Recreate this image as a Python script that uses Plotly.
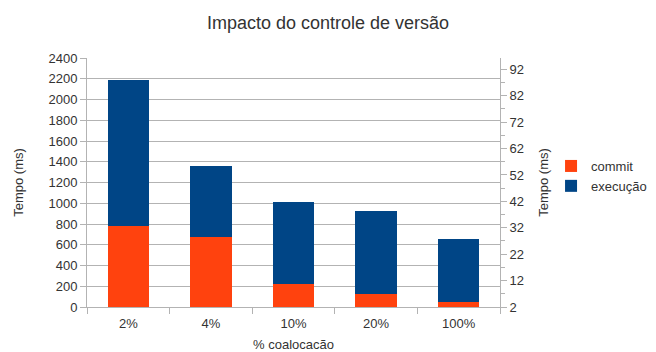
import plotly.graph_objects as go

categories = ["2%", "4%", "10%", "20%", "100%"]
commit = [780, 675, 225, 128, 45]
execucao = [1410, 685, 790, 794, 613]
left_ticks = list(range(0, 2401, 200))
right_ticks = list(range(2, 93, 10))

FONT = "Liberation Sans, Arial, sans-serif"
GRID = "#b3b3b3"
TXT = "#333333"

fig = go.Figure()
fig.add_trace(go.Bar(x=categories, y=commit, name="commit",
                     marker=dict(color="#ff420e", line=dict(width=0))))
fig.add_trace(go.Bar(x=categories, y=execucao, name="execução",
                     marker=dict(color="#004586", line=dict(width=0))))
fig.add_trace(go.Scatter(x=[categories[0]], y=[None], yaxis="y2",
                         showlegend=False, hoverinfo="skip", mode="markers"))

fig.update_layout(
    width=656, height=352,
    barmode="stack", bargap=0.5,
    paper_bgcolor="white", plot_bgcolor="white",
    font=dict(family=FONT, size=13, color=TXT),
    margin=dict(l=87, r=156, t=58, b=45, autoexpand=False),
    title=dict(text="Impacto do controle de versão", x=0.5, xref="container",
               y=0.935, yref="container", xanchor="center", yanchor="middle",
               font=dict(size=18, color=TXT)),
    xaxis=dict(title=dict(text="% coalocacão", standoff=10, font=dict(size=13)),
               showline=True, linecolor=GRID, ticks="outside", tickson="boundaries",
               ticklen=6, tickcolor=GRID, showgrid=False, automargin=False,
               ticklabelstandoff=4),
    yaxis=dict(title=dict(text="Tempo (ms)", font=dict(size=13), standoff=21),
               range=[0, 2400], tickvals=left_ticks, showline=True, linecolor=GRID,
               ticks="outside", ticklen=6, tickcolor=GRID, gridcolor=GRID,
               zeroline=False, automargin=False),
    yaxis2=dict(title=dict(text="Tempo (ms)", font=dict(size=13), standoff=18),
                overlaying="y", side="right", range=[2, 96.3],
                tick0=2, dtick=10, showline=True, linecolor=GRID,
                ticks="outside", ticklen=6, tickcolor=GRID, showgrid=False,
                zeroline=False, automargin=False,
                minor=dict(tick0=7, dtick=10, ticks="outside", ticklen=4, tickcolor=GRID)),
    legend=dict(xref="container", x=0.84, y=0.5, yref="container",
                xanchor="left", yanchor="middle", itemwidth=30,
                traceorder="normal", font=dict(size=13), tracegroupgap=0),
    showlegend=True,
)

fig.write_html("out.html")
